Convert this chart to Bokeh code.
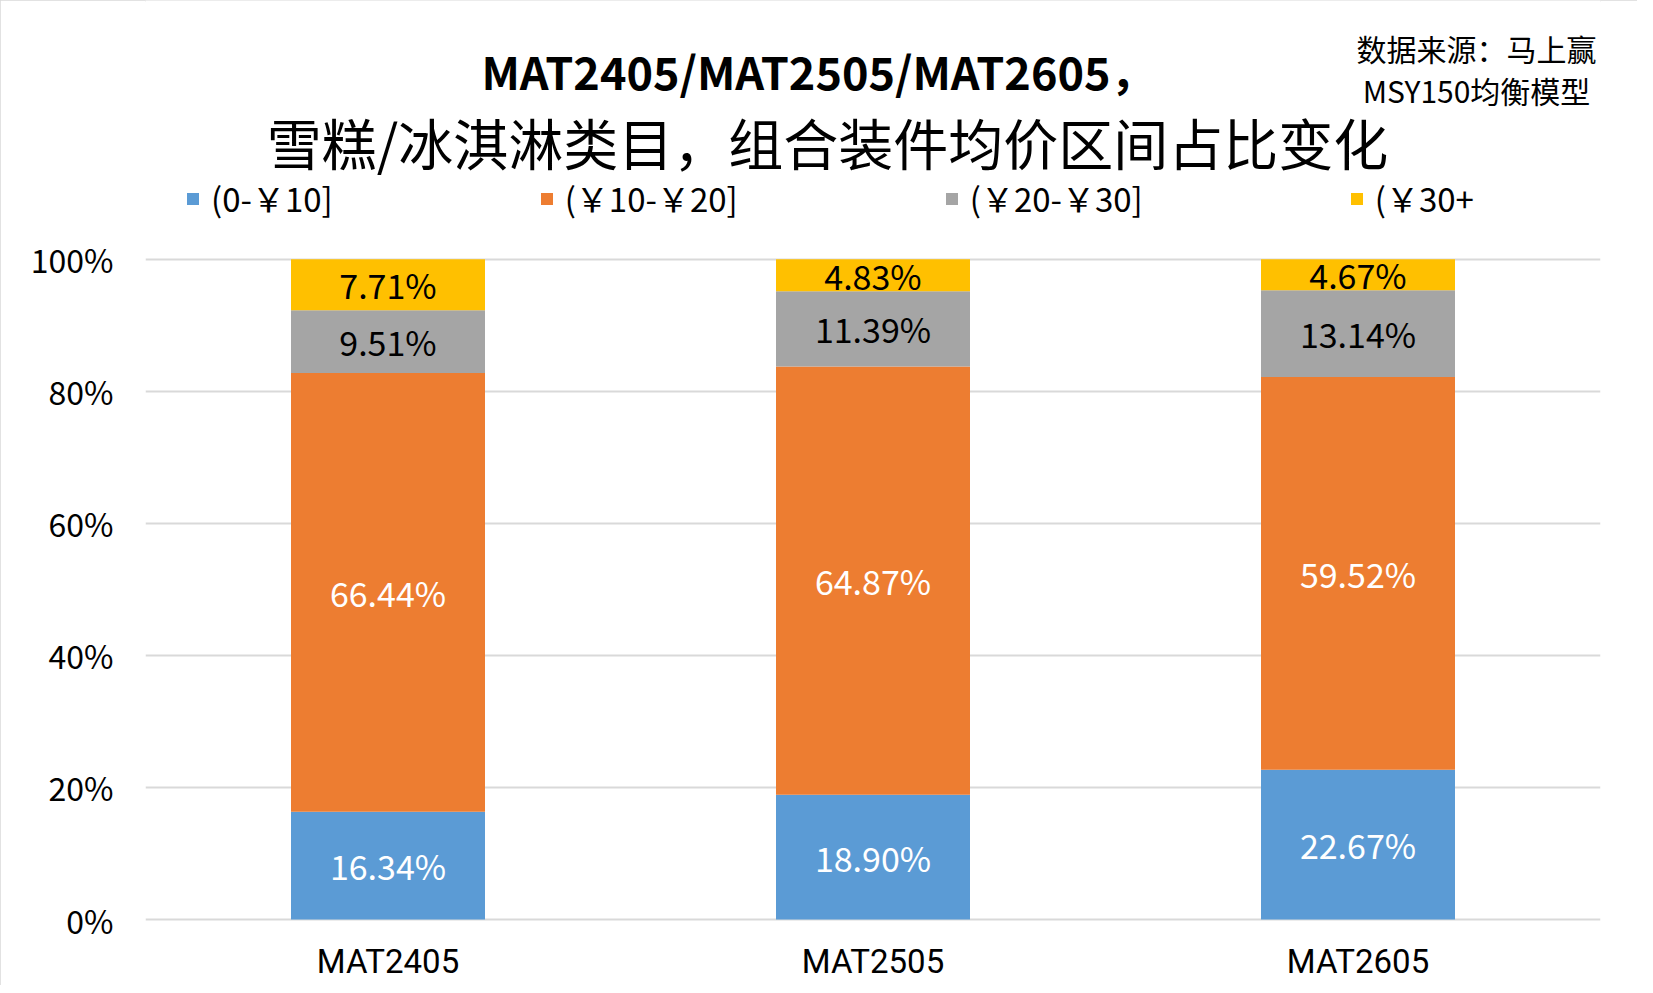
from bokeh.plotting import figure
from bokeh.models import (ColumnDataSource, Range1d, FixedTicker, PrintfTickFormatter,
                          Legend, LegendItem, Label, LabelSet, FactorRange)
from bokeh.core.properties import value
from bokeh.embed import file_html
from bokeh.resources import INLINE

# ---- data ----
categories = ["MAT2405", "MAT2505", "MAT2605"]
series_names = ["(0-￥10]", "(￥10-￥20]", "(￥20-￥30]", "(￥30+"]
s_0_10 = [16.34, 18.90, 22.67]
s_10_20 = [66.44, 64.87, 59.52]
s_20_30 = [9.51, 11.39, 13.14]
s_30_plus = [7.71, 4.83, 4.67]
y_ticks = [0, 20, 40, 60, 80, 100]

title_line1 = "MAT2405/MAT2505/MAT2605，"
title_line2 = "雪糕/冰淇淋类目，组合装件均价区间占比变化"
source_line1 = "数据来源：马上赢"
source_line2 = "MSY150均衡模型"

colors = ["#5B9BD5", "#ED7D31", "#A5A5A5", "#FFC000"]
label_colors = ["white", "white", "black", "black"]
FONT = "Noto Sans CJK SC"

series = [s_0_10, s_10_20, s_20_30, s_30_plus]
keys = ["a", "b", "c", "d"]
data = {"cat": categories}
for k, s in zip(keys, series):
    data[k] = s
source = ColumnDataSource(data)

# y range extends above 100% to leave room for title / legend inside the frame
p = figure(x_range=FactorRange(*categories), y_range=Range1d(-0.3, 139.2),
           width=1637, height=985, output_backend="svg", toolbar_location=None,
           min_border_left=145, min_border_right=37, min_border_top=0, min_border_bottom=64)
p.outline_line_color = None
p.background_fill_color = "white"
p.border_fill_color = "white"
p.styles = {"outline": "2px solid #D9D9D9", "outline-offset": "-2px"}

renderers = p.vbar_stack(keys, x="cat", width=0.4, color=colors, line_color=None, source=source)

# data labels (segment midpoints)
lx, ly, lt, lc = [], [], [], []
for i, cat in enumerate(categories):
    base = 0.0
    for j, s in enumerate(series):
        v = s[i]
        lx.append(cat)
        ly.append(base + v / 2)
        lt.append(f"{v:.2f}%")
        lc.append(label_colors[j])
        base += v
lsrc = ColumnDataSource(dict(x=lx, y=ly, text=lt, color=lc))
p.add_layout(LabelSet(x="x", y="y", text="text", text_color="color", source=lsrc,
                      text_align="center", text_baseline="middle",
                      text_font=value(FONT), text_font_size=value("34px")))

# axes
p.yaxis.ticker = FixedTicker(ticks=y_ticks)
p.yaxis.formatter = PrintfTickFormatter(format="%d%%")
for ax in (p.xaxis[0], p.yaxis[0]):
    ax.axis_line_color = None
    ax.major_tick_line_color = None
    ax.minor_tick_line_color = None
    ax.major_tick_out = 0
    ax.major_tick_in = 0
    ax.minor_tick_out = 0
    ax.major_label_text_color = "black"
p.yaxis.major_label_text_font = FONT
p.yaxis.major_label_text_font_size = "32px"
p.yaxis.major_label_standoff = 32
p.xaxis.major_label_text_font = "Roboto"
p.xaxis.major_label_text_font_size = "33px"
p.xaxis.major_label_standoff = 20
p.xgrid.grid_line_color = None
p.ygrid.grid_line_color = "#D9D9D9"
p.ygrid.grid_line_width = 2

# legend
legend = Legend(items=[LegendItem(label=n, renderers=[r]) for n, r in zip(series_names, renderers)],
                orientation="horizontal", location=(40, 699), padding=0, margin=0,
                spacing=206, glyph_width=15, glyph_height=15, label_standoff=11,
                label_text_font=FONT, label_text_font_size="33px", label_text_color="black",
                border_line_color=None, background_fill_alpha=0)
p.add_layout(legend)

# titles and source note (screen units relative to plot frame)
def note(x, y, text, size, style="normal"):
    p.add_layout(Label(x=x, y=y, x_units="screen", y_units="screen", text=text,
                       text_align="center", text_baseline="middle", text_font=FONT,
                       text_font_size=size, text_font_style=style, text_color="black"))

note(673, 851, title_line1, "45px", "bold")
note(682, 781, title_line2, "55px")
note(1331, 874, source_line1, "30px")
note(1331, 832, source_line2, "30px")

open("out.html", "w").write(file_html(p, INLINE))
